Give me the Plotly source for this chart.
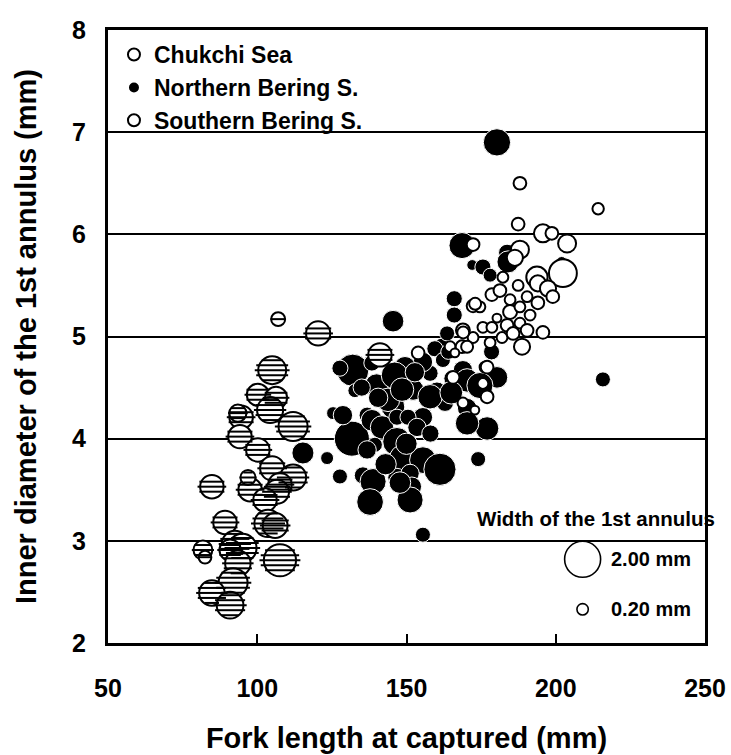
import math
import plotly.graph_objects as go

# ---------------- data ----------------
# Chukchi Sea
chukchi_fl = [107.0, 120.4, 141.1, 105.0, 100.2, 106.3, 104.3, 94.6, 112.0, 94.2, 93.5,
              100.2, 105.0, 112.0, 107.6, 84.8, 97.6, 96.9, 106.6, 102.6, 89.2, 103.6,
              106.0, 81.8, 82.5, 92.5, 95.0, 90.9, 107.6, 93.5, 91.9, 84.8, 90.9]
chukchi_diam = [5.17, 5.03, 4.82, 4.67, 4.43, 4.40, 4.28, 4.21, 4.12, 4.02, 4.25,
                3.89, 3.71, 3.62, 3.55, 3.53, 3.50, 3.62, 3.48, 3.40, 3.18, 3.17,
                3.15, 2.91, 2.84, 2.97, 2.93, 2.91, 2.81, 2.78, 2.59, 2.49, 2.37]
chukchi_width = [0.30, 0.90, 0.85, 1.20, 0.75, 0.75, 1.05, 0.85, 1.30, 0.85, 0.45,
                 0.85, 0.90, 1.05, 0.85, 0.85, 0.85, 0.35, 0.90, 0.85, 0.85, 1.15,
                 0.95, 0.55, 0.25, 1.05, 1.25, 0.70, 1.60, 1.00, 1.30, 1.00, 1.10]

# Northern Bering Sea
north_fl = [180.3, 168.6, 183.7, 184.0, 172.0, 175.6, 178.0, 202.0, 166.0, 166.0, 145.5,
            161.9, 159.5, 162.2, 157.9, 168.9, 180.3, 160.2, 165.2, 162.9, 170.3, 177.0,
            174.0, 215.8, 170.3, 170.3, 155.5, 149.5, 144.5, 152.2, 157.9, 145.5, 155.5,
            132.0, 127.7, 138.4, 140.0, 146.0, 152.8, 143.8, 148.5, 132.7, 131.7, 125.4,
            128.7, 136.8, 138.4, 141.8, 139.4, 136.8, 146.8, 146.8, 150.5, 153.5, 148.8,
            155.5, 161.2, 123.4, 127.7, 135.4, 138.8, 137.8, 146.8, 151.2, 151.8, 151.2,
            147.8, 155.5, 115.3, 174.6, 165.0, 163.6, 143.0, 140.5, 150.0, 158.0, 135.0,
            164.0, 178.5]
north_diam = [6.90, 5.89, 5.82, 5.73, 5.70, 5.68, 5.60, 5.73, 5.37, 5.21, 5.15,
              4.90, 4.88, 4.77, 4.64, 4.67, 4.60, 4.46, 4.59, 4.35, 4.30, 4.10,
              3.80, 4.58, 4.57, 4.15, 4.75, 4.70, 4.54, 4.48, 4.41, 4.31, 4.21,
              4.67, 4.69, 4.74, 4.52, 4.62, 4.65, 4.38, 4.48, 4.47, 4.00, 4.25,
              4.23, 4.23, 4.18, 4.11, 3.94, 3.89, 3.97, 4.21, 4.21, 4.11, 3.81,
              3.79, 3.70, 3.81, 3.63, 3.64, 3.58, 3.38, 3.62, 3.66, 3.53, 3.40,
              3.57, 3.06, 3.86, 4.52, 4.45, 5.03, 3.75, 4.40, 3.95, 4.05, 4.50,
              4.85, 4.85]
north_width = [1.15, 1.05, 0.45, 0.75, 0.18, 0.40, 0.30, 0.18, 0.40, 0.40, 0.72,
               0.45, 0.40, 0.35, 0.40, 0.58, 0.72, 0.58, 0.40, 0.45, 0.58, 0.85,
               0.35, 0.35, 0.85, 0.85, 0.58, 0.70, 1.05, 0.70, 0.92, 0.85, 0.58,
               1.60, 0.40, 0.40, 0.85, 1.10, 0.58, 0.85, 0.85, 0.30, 1.90, 0.26,
               0.58, 0.40, 0.72, 0.85, 0.35, 0.52, 1.25, 0.40, 0.40, 0.52, 1.10,
               1.10, 1.60, 0.26, 0.35, 0.46, 1.05, 1.10, 0.52, 0.52, 0.58, 1.05,
               0.72, 0.35, 0.75, 1.05, 0.80, 0.35, 0.70, 0.58, 0.70, 0.46, 0.46,
               0.35, 0.40]

# Southern Bering Sea
south_fl = [188.0, 214.2, 187.4, 195.7, 198.7, 203.8, 172.3, 188.0, 186.3, 202.4, 193.7,
            194.0, 197.4, 199.0, 182.3, 187.4, 178.6, 181.3, 184.7, 190.4, 194.0, 172.3,
            174.6, 184.7, 188.0, 191.4, 180.3, 183.7, 188.0, 190.4, 195.7, 168.9, 175.6,
            178.6, 182.0, 185.7, 172.3, 164.6, 168.6, 178.0, 188.7, 166.2, 176.3, 165.6,
            175.6, 177.0, 168.9, 172.9, 177.0, 153.9, 169.0, 170.3, 173.0]
south_diam = [6.50, 6.25, 6.10, 6.01, 6.01, 5.91, 5.90, 5.85, 5.77, 5.62, 5.58,
              5.52, 5.47, 5.39, 5.58, 5.50, 5.41, 5.45, 5.36, 5.39, 5.33, 5.30,
              5.29, 5.24, 5.29, 5.21, 5.18, 5.11, 5.13, 5.06, 5.04, 5.06, 5.09,
              5.09, 4.99, 5.03, 4.99, 4.90, 4.90, 4.94, 4.90, 4.84, 4.70, 4.60,
              4.54, 4.41, 4.35, 4.28, 4.70, 4.84, 5.04, 4.90, 5.32]
south_width = [0.25, 0.20, 0.25, 0.50, 0.25, 0.50, 0.25, 0.50, 0.40, 1.20, 0.70,
               0.40, 0.40, 0.25, 0.18, 0.18, 0.25, 0.25, 0.18, 0.18, 0.25, 0.25,
               0.18, 0.30, 0.18, 0.18, 0.12, 0.25, 0.18, 0.25, 0.25, 0.30, 0.18,
               0.18, 0.18, 0.25, 0.18, 0.18, 0.25, 0.18, 0.40, 0.12, 0.18, 0.25,
               0.18, 0.25, 0.18, 0.12, 0.25, 0.25, 0.22, 0.22, 0.22]

# bubble-size key
key_widths = [2.00, 0.20]
key_labels = ["2.00 mm", "0.20 mm"]
key_fl = [209.0, 209.0]
key_diam = [2.82, 2.33]

series_names = ["Chukchi Sea", "Northern Bering S.", "Southern Bering S."]

# ---------------- layout constants ----------------
W, H = 731, 755
ML, MR, MT, MB = 108, 26, 30, 112
YMIN, YMAX = 2, 8
PX_PER_UNIT = (H - MT - MB) / (YMAX - YMIN)
SIZEREF = 1 / 324.0            # 2.00 mm -> 36 px diameter (area scaling)
FONT = "Liberation Sans, Arial, Helvetica, sans-serif"


def px_diam(w):
    return 2 * math.sqrt(w / 2 / SIZEREF)


fig = go.Figure()

# Northern Bering S. (filled black)
fig.add_trace(go.Scatter(
    x=north_fl, y=north_diam, mode="markers", name=series_names[1],
    marker=dict(size=north_width, sizemode="area", sizeref=SIZEREF, opacity=1,
                color="black", line=dict(color="white", width=1)),
    legendgroup="n", legendrank=2))

# Southern Bering S. (open)
fig.add_trace(go.Scatter(
    x=south_fl, y=south_diam, mode="markers", name=series_names[2],
    marker=dict(size=south_width, sizemode="area", sizeref=SIZEREF, opacity=1,
                color="white", line=dict(color="black", width=2)),
    legendgroup="s", legendrank=3))

# Chukchi Sea (hatched): white disc + horizontal stripes
fig.add_trace(go.Scatter(
    x=chukchi_fl, y=chukchi_diam, mode="markers", name=series_names[0],
    marker=dict(size=chukchi_width, sizemode="area", sizeref=SIZEREF, opacity=1,
                color="white", line=dict(color="black", width=2)),
    legendgroup="c", legendrank=1))

stripe_offsets = [-10, -5, 0, 5, 10]
for i, off in enumerate(stripe_offsets):
    sizes = []
    for w in chukchi_width:
        r = px_diam(w) / 2 - 1.5
        sizes.append(2 * math.sqrt(r * r - off * off) if r > abs(off) + 1 else 0)
    fig.add_trace(go.Scatter(
        x=chukchi_fl, y=chukchi_diam, mode="markers", showlegend=False,
        yaxis="y%d" % (i + 2), hoverinfo="skip",
        marker=dict(symbol="line-ew", size=sizes, sizemode="diameter", sizeref=1,
                    opacity=1, color="black", line=dict(color="black", width=2))))
    shift = off / PX_PER_UNIT
    fig.layout["yaxis%d" % (i + 2)] = dict(
        overlaying="y", range=[YMIN + shift, YMAX + shift], visible=False,
        showgrid=False, zeroline=False, fixedrange=True, automargin=False)

# bubble size key
fig.add_trace(go.Scatter(
    x=key_fl, y=key_diam, mode="markers", showlegend=False,
    marker=dict(size=key_widths, sizemode="area", sizeref=SIZEREF, opacity=1,
                color="white", line=dict(color="black", width=1.6))))

for xk, yk, lab in zip(key_fl, key_diam, key_labels):
    fig.add_annotation(x=xk, y=yk, text="<b>%s</b>" % lab, showarrow=False,
                       xanchor="left", yanchor="middle", xshift=26,
                       font=dict(family=FONT, size=20, color="black"))
fig.add_annotation(x=173, y=3.22, text="<b>Width of the 1st annulus</b>", showarrow=False,
                   xanchor="left", yanchor="middle",
                   font=dict(family=FONT, size=20.5, color="black"))

fig.update_layout(
    width=W, height=H,
    margin=dict(l=ML, r=MR, t=MT, b=MB, autoexpand=False),
    paper_bgcolor="white", plot_bgcolor="white",
    font=dict(family=FONT, color="black"),
    showlegend=True,
    legend=dict(x=0.01, y=0.995, xanchor="left", yanchor="top",
                bgcolor="rgba(0,0,0,0)", itemsizing="constant",
                font=dict(family=FONT, size=23, color="black", weight="bold"),
                tracegroupgap=0, traceorder="normal", itemwidth=30),
    xaxis=dict(range=[50, 250], tickvals=[50, 100, 150, 200, 250], automargin=False,
               ticks="inside", ticklen=9, tickwidth=2, tickcolor="black",
               showline=True, linecolor="black", linewidth=3, mirror=True,
               showgrid=False, zeroline=False, ticklabelstandoff=21,
               tickfont=dict(family=FONT, size=25, color="black", weight="bold"),
               title=dict(text="Fork length at captured (mm)", standoff=27,
                          font=dict(family=FONT, size=29, color="black", weight="bold"))),
    yaxis=dict(range=[YMIN, YMAX], dtick=1, automargin=False,
               ticks="inside", ticklen=8, tickwidth=2, tickcolor="black",
               showline=True, linecolor="black", linewidth=3, mirror=True,
               showgrid=True, gridcolor="black", gridwidth=1.5, zeroline=False,
               ticklabelstandoff=14,
               tickfont=dict(family=FONT, size=25, color="black", weight="bold"),
               title=dict(text="Inner diameter of the 1st annulus (mm)", standoff=27,
                          font=dict(family=FONT, size=29, color="black", weight="bold"))),
)

fig.write_html("out.html", config={"displayModeBar": False},
               post_script="document.body.style.margin='0';document.body.style.overflow='hidden';")
